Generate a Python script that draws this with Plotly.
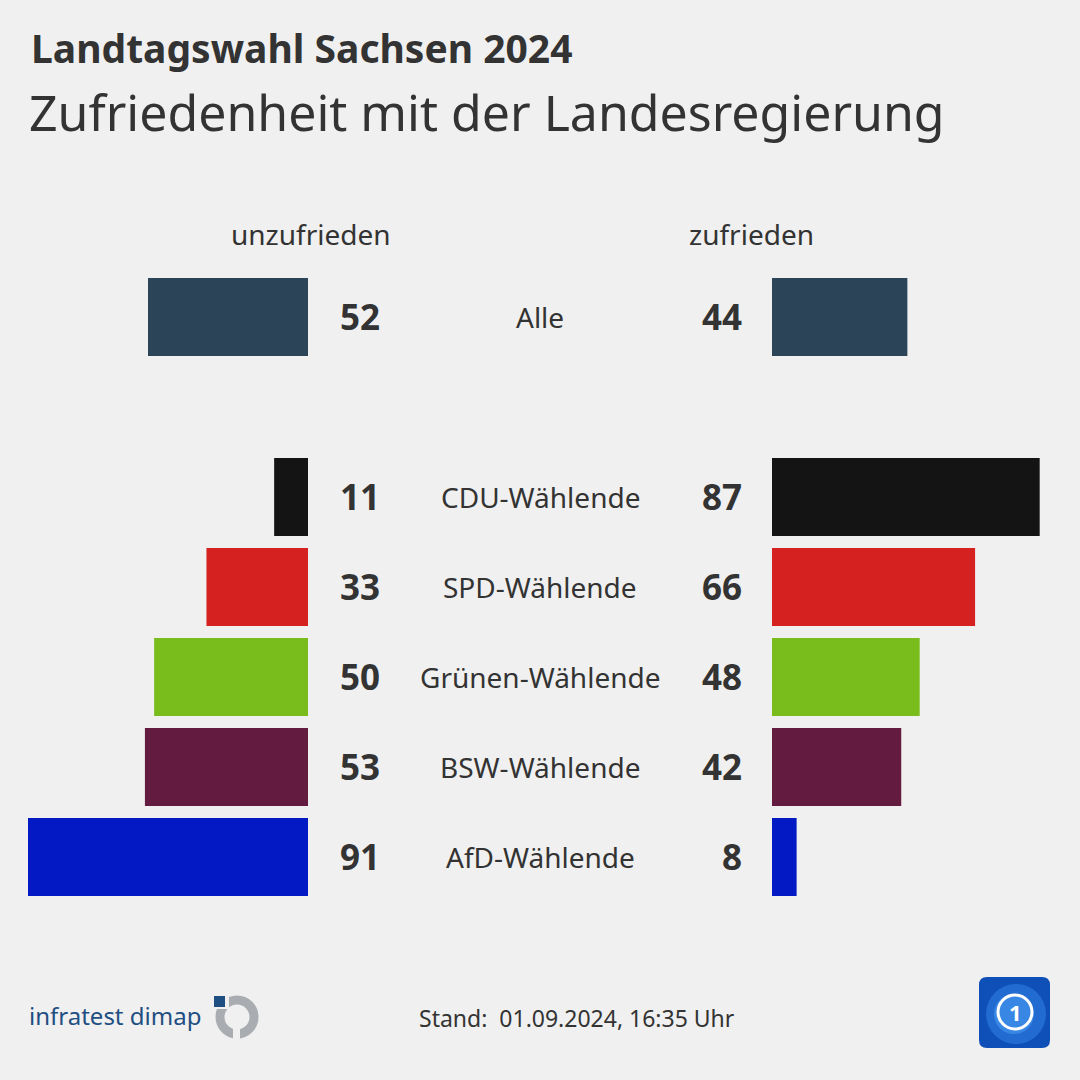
import plotly.graph_objects as go

# ---- data ----
groups = ["Alle", "", "CDU-Wählende", "SPD-Wählende", "Grünen-Wählende", "BSW-Wählende", "AfD-Wählende"]
unzufrieden = [52, None, 11, 33, 50, 53, 91]
zufrieden = [44, None, 87, 66, 48, 42, 8]
colors = ["#2b4457", "rgba(0,0,0,0)", "#141414", "#d52120", "#79bd1d", "#641b40", "#0219c3"]
header_left = "unzufrieden"
header_right = "zufrieden"
title = "Landtagswahl Sachsen 2024"
subtitle = "Zufriedenheit mit der Landesregierung"
footer = "Stand:  01.09.2024, 16:35 Uhr"

W = H = 1080
BG = "#f0f0f0"
TXT = "#333333"
FONT = "Noto Sans"
cats = [g if g else " " for g in groups]

def px(x):
    return x / W

def py(y):
    return 1 - y / H

fig = go.Figure()
fig.add_trace(go.Bar(y=cats, x=unzufrieden, orientation="h", marker=dict(color=colors, line=dict(width=0)),
                     xaxis="x", yaxis="y", hoverinfo="skip", showlegend=False))
fig.add_trace(go.Bar(y=cats, x=zufrieden, orientation="h", marker=dict(color=colors, line=dict(width=0)),
                     xaxis="x2", yaxis="y", hoverinfo="skip", showlegend=False))

ann = []
for c, g, u, z in zip(cats, groups, unzufrieden, zufrieden):
    if u is None:
        continue
    ann.append(dict(x=px(382), y=c, xref="paper", yref="y", text=f"<b>{u}</b>", showarrow=False,
                    xanchor="right", yanchor="middle", font=dict(size=35, color=TXT, family=FONT)))
    ann.append(dict(x=px(744), y=c, xref="paper", yref="y", text=f"<b>{z}</b>", showarrow=False,
                    xanchor="right", yanchor="middle", font=dict(size=35, color=TXT, family=FONT)))
    ann.append(dict(x=px(540), y=c, xref="paper", yref="y", text=g, showarrow=False,
                    xanchor="center", yanchor="middle", font=dict(size=28, color=TXT, family=FONT)))

ann += [
    dict(x=px(29), y=py(48), xref="paper", yref="paper", text=f"<b>{title}</b>", showarrow=False,
         xanchor="left", yanchor="middle", font=dict(size=39, color=TXT, family=FONT)),
    dict(x=px(27), y=py(112), xref="paper", yref="paper", text=subtitle, showarrow=False,
         xanchor="left", yanchor="middle", font=dict(size=50, color=TXT, family=FONT)),
    dict(x=px(311), y=py(234), xref="paper", yref="paper", text=header_left, showarrow=False,
         xanchor="center", yanchor="middle", font=dict(size=28, color=TXT, family=FONT)),
    dict(x=px(751), y=py(234), xref="paper", yref="paper", text=header_right, showarrow=False,
         xanchor="center", yanchor="middle", font=dict(size=28, color=TXT, family=FONT)),
    dict(x=px(577), y=py(1018), xref="paper", yref="paper", text=footer, showarrow=False,
         xanchor="center", yanchor="middle", font=dict(size=23, color=TXT, family=FONT)),
    dict(x=px(27), y=py(1015), xref="paper", yref="paper", text="infratest dimap", showarrow=False,
         xanchor="left", yanchor="middle", font=dict(size=24, color="#1f4f82", family=FONT)),
    dict(x=px(1015), y=py(1012), xref="paper", yref="paper", text="<b>1</b>", showarrow=False,
         xanchor="center", yanchor="middle", font=dict(size=22, color="white", family=FONT)),
]

shapes = [
    # infratest dimap logo
    dict(type="circle", xref="paper", yref="paper", x0=px(220), x1=px(254), y0=py(1034), y1=py(1000),
         line=dict(color="#a9adb1", width=9), fillcolor="rgba(0,0,0,0)"),
    dict(type="rect", xref="paper", yref="paper", x0=px(210), x1=px(229), y0=py(1009), y1=py(992),
         line=dict(width=0), fillcolor=BG),
    dict(type="rect", xref="paper", yref="paper", x0=px(233), x1=px(240), y0=py(1045), y1=py(1025),
         line=dict(width=0), fillcolor=BG),
    dict(type="rect", xref="paper", yref="paper", x0=px(214), x1=px(225), y0=py(1007), y1=py(996),
         line=dict(width=0), fillcolor="#1f4f82"),
    # tagesschau logo
    dict(type="path", xref="paper", yref="paper",
         path=(f"M {px(987)},{py(977)} L {px(1042)},{py(977)} Q {px(1050)},{py(977)} {px(1050)},{py(985)} "
               f"L {px(1050)},{py(1040)} Q {px(1050)},{py(1048)} {px(1042)},{py(1048)} "
               f"L {px(987)},{py(1048)} Q {px(979)},{py(1048)} {px(979)},{py(1040)} "
               f"L {px(979)},{py(985)} Q {px(979)},{py(977)} {px(987)},{py(977)} Z"),
         fillcolor="#0f4fb8", line=dict(width=0)),
    dict(type="circle", xref="paper", yref="paper", x0=px(986), x1=px(1046), y0=py(1044), y1=py(984),
         fillcolor="#2a78dc", line=dict(width=0), opacity=0.7),
    dict(type="circle", xref="paper", yref="paper", x0=px(994), x1=px(1034), y0=py(1034), y1=py(994),
         fillcolor="#4a9af0", line=dict(width=0), opacity=0.6),
    dict(type="circle", xref="paper", yref="paper", x0=px(998), x1=px(1032), y0=py(1029), y1=py(995),
         fillcolor="rgba(0,0,0,0)", line=dict(color="white", width=3)),
]

fig.update_layout(
    width=W, height=H,
    paper_bgcolor=BG, plot_bgcolor=BG,
    margin=dict(l=0, r=0, t=0, b=0),
    bargap=12 / 90,
    xaxis=dict(domain=[0, px(308)], range=[100.1, 0], visible=False, fixedrange=True),
    xaxis2=dict(domain=[px(772), 1], range=[0, 100.1], visible=False, fixedrange=True),
    yaxis=dict(domain=[py(902), py(272)], type="category", categoryorder="array", categoryarray=cats,
               range=[6.5, -0.5], visible=False, fixedrange=True),
    annotations=ann,
    shapes=shapes,
    showlegend=False,
)

fig.write_html("out.html", config={"displayModeBar": False},
               post_script="document.body.style.margin='0';document.body.style.overflow='hidden';")
